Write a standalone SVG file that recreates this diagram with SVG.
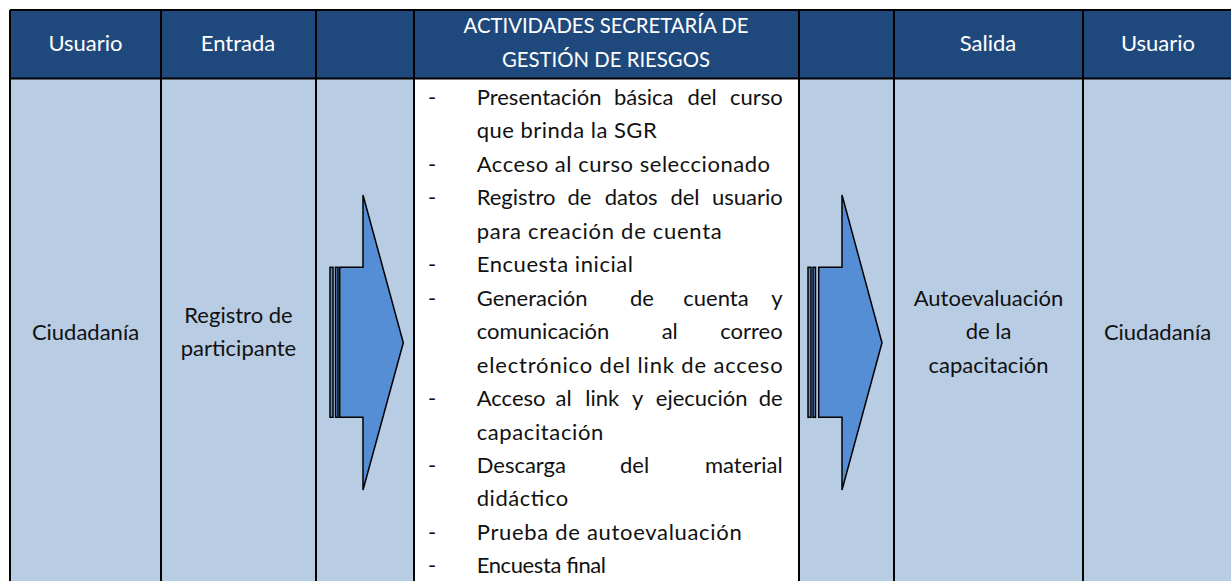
<svg xmlns="http://www.w3.org/2000/svg" width="1231" height="581" viewBox="0 0 1231 581">
<style>
.hd{fill:#1F497D}
.bd{fill:#B8CCE4}
.wh{fill:#FFFFFF}
.grid{stroke:#000;stroke-width:2;fill:none}
.t{font-family:Lato,"Liberation Sans",sans-serif;font-size:22px;fill:#111}
.th{font-family:Lato,"Liberation Sans",sans-serif;font-size:22px;fill:#FFFFFF;text-anchor:middle}
.c{text-anchor:middle}
.e{text-anchor:end}
.arr{fill:#558ED5;stroke:#000;stroke-width:1.5;stroke-linejoin:miter}
</style>
<rect x="0" y="0" width="1231" height="581" fill="#FFFFFF"/>
<g id="header">
<rect class="hd" x="10" y="10" width="1230" height="68.5"/>
<text class="th" x="85.5" y="51">Usuario</text>
<text class="th" x="238" y="51">Entrada</text>
<text class="th" x="606" y="33.3" textLength="285" lengthAdjust="spacingAndGlyphs">ACTIVIDADES SECRETARÍA DE</text>
<text class="th" x="606" y="66.7" textLength="208" lengthAdjust="spacingAndGlyphs">GESTIÓN DE RIESGOS</text>
<text class="th" x="988" y="51">Salida</text>
<text class="th" x="1158" y="51">Usuario</text>
</g>
<g id="body-bg">
<rect class="bd" x="10" y="78.5" width="404" height="510"/>
<rect class="wh" x="414" y="78.5" width="385" height="510"/>
<rect class="bd" x="799" y="78.5" width="441" height="510"/>
</g>
<g id="grid">
<path class="grid" d="M10,10 H1240 M10,78.5 H1240 M10,10 V590 M161,10 V590 M316,10 V590 M414,10 V590 M799,10 V590 M894,10 V590 M1083,10 V590"/>
</g>
<g id="usuario-entrada">
<text class="t c" x="85.5" y="340">Ciudadanía</text>
</g>
<g id="entrada">
<text class="t c" x="238.5" y="323">Registro de</text>
<text class="t c" x="238.5" y="356">participante</text>
</g>
<g id="connectors">
<g id="arrow-left">
<rect class="arr" x="330" y="267.3" width="3" height="150"/>
<rect class="arr" x="335.5" y="267.3" width="2.5" height="150"/>
<polygon class="arr" points="339.7,267.3 363,267.3 363,195 403.3,342.7 363,490 363,417.3 339.7,417.3"/>
</g>
<g id="arrow-right">
<rect class="arr" x="808" y="267.3" width="3" height="150"/>
<rect class="arr" x="813" y="267.3" width="2.5" height="150"/>
<polygon class="arr" points="818.7,267.3 842,267.3 842,195 882,342.7 842,490 842,417.3 818.7,417.3"/>
</g>
</g>
<g id="actividades">
<g class="t">
<text x="428" y="105">-</text>
<text x="428" y="171.9">-</text>
<text x="428" y="205.35">-</text>
<text x="428" y="272.25">-</text>
<text x="428" y="305.7">-</text>
<text x="428" y="406.05">-</text>
<text x="428" y="472.95">-</text>
<text x="428" y="539.85">-</text>
<text x="428" y="573.3">-</text>
</g>
<text class="t" y="105"><tspan x="476.7">Presentación</tspan><tspan x="614">básica</tspan><tspan x="687.6">del</tspan></text>
<text class="t e" x="782.7" y="105">curso</text>
<text class="t" x="476.7" y="138.45" textLength="180" lengthAdjust="spacing">que brinda la SGR</text>
<text class="t" x="476.7" y="171.9" textLength="293.3" lengthAdjust="spacing">Acceso al curso seleccionado</text>
<text class="t" y="205.35"><tspan x="476.7">Registro</tspan><tspan x="567.4">de</tspan><tspan x="604.7">datos</tspan><tspan x="670.4">del</tspan></text>
<text class="t e" x="782.7" y="205.35">usuario</text>
<text class="t" x="476.7" y="238.8" textLength="245" lengthAdjust="spacing">para creación de cuenta</text>
<text class="t" x="476.7" y="272.25" textLength="156.3" lengthAdjust="spacing">Encuesta inicial</text>
<text class="t" y="305.7"><tspan x="476.7">Generación</tspan><tspan x="630">de</tspan><tspan x="683.3">cuenta</tspan></text>
<text class="t e" x="782.7" y="305.7">y</text>
<text class="t" y="339.15"><tspan x="476.7">comunicación</tspan><tspan x="661.7">al</tspan></text>
<text class="t e" x="782.7" y="339.15">correo</text>
<text class="t" x="476.7" y="372.6" textLength="306" lengthAdjust="spacing">electrónico del link de acceso</text>
<text class="t" y="406.05"><tspan x="476.7">Acceso</tspan><tspan x="555.5">al</tspan><tspan x="585.3">link</tspan><tspan x="631.9">y</tspan><tspan x="655.8">ejecución</tspan></text>
<text class="t e" x="782.7" y="406.05">de</text>
<text class="t" x="476.7" y="439.5" textLength="126.6" lengthAdjust="spacing">capacitación</text>
<text class="t" y="472.95"><tspan x="476.7">Descarga</tspan><tspan x="620">del</tspan></text>
<text class="t e" x="782.7" y="472.95">material</text>
<text class="t" x="476.7" y="506.4" textLength="91.6" lengthAdjust="spacing">didáctico</text>
<text class="t" x="476.7" y="539.85" textLength="265" lengthAdjust="spacing">Prueba de autoevaluación</text>
<text class="t" x="476.7" y="573.3" textLength="129.3" lengthAdjust="spacing">Encuesta final</text>
</g>
<g id="salida">
<text class="t c" x="988.5" y="305.7">Autoevaluación</text>
<text class="t c" x="988.5" y="339.15">de la</text>
<text class="t c" x="988.5" y="372.6">capacitación</text>
</g>
<g id="usuario-salida">
<text class="t c" x="1157.5" y="340">Ciudadanía</text>
</g>
</svg>
